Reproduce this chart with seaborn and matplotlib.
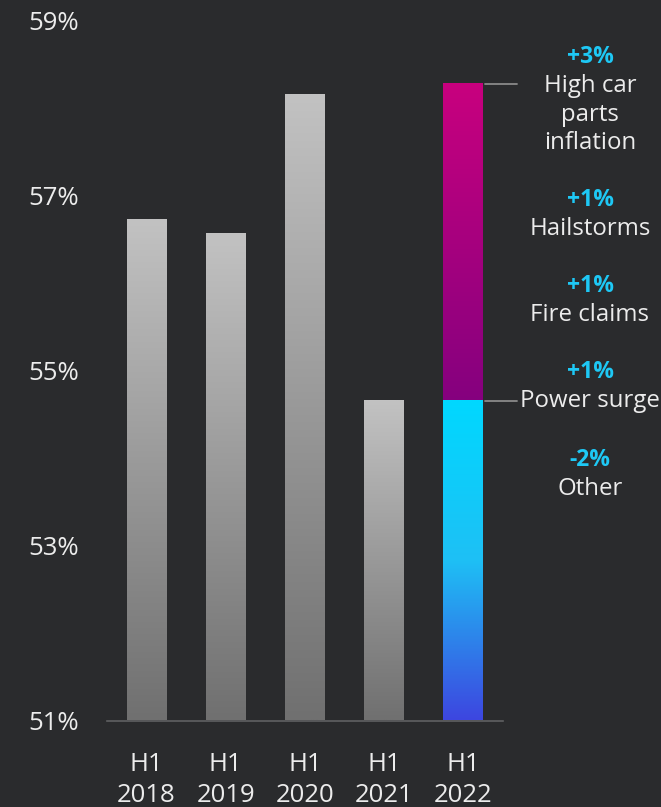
import numpy as np
import pandas as pd
import matplotlib
matplotlib.use("Agg")
import matplotlib.pyplot as plt
from matplotlib.colors import LinearSegmentedColormap
import seaborn as sns

# Loss ratio by half-year (%)
periods = ["H1\n2018", "H1\n2019", "H1\n2020", "H1\n2021", "H1\n2022"]
loss_ratio = [56.72, 56.56, 58.15, 54.65, 58.28]
base_2022 = 54.65          # H1 2021 level carried into the 2022 bridge

# Drivers of the H1 2022 change
driver_values = ["+3%", "+1%", "+1%", "+1%", "-2%"]
driver_labels = [["High car", "parts", "inflation"], ["Hailstorms"], ["Fire claims"],
                 ["Power surge"], ["Other"]]

y_ticks = [51, 53, 55, 57, 59]
y_min, y_max = 51, 59

BG = "#2a2b2d"
TXT = "#ececec"
ACCENT = "#1ec8f5"

sns.set_theme(style="dark")
plt.rcParams["font.family"] = ["Open Sans", "DejaVu Sans"]

W, H = 661, 807
fig = plt.figure(figsize=(W / 100, H / 100), dpi=100, facecolor=BG)
ax = fig.add_axes([107 / W, 86.5 / H, 396 / W, 700 / H], facecolor=BG)

df = pd.DataFrame({"period": periods, "value": loss_ratio})
sns.barplot(data=df, x="period", y="value", order=periods, width=0.505,
            color="#999999", ax=ax, errorbar=None)
sns.barplot(data=pd.DataFrame({"period": [periods[-1]], "value": [base_2022]}),
            x="period", y="value", order=periods, width=0.505,
            color="#00d8ff", ax=ax, errorbar=None)

grey = LinearSegmentedColormap.from_list("grey", ["#707070", "#c2c2c2"])
magenta = LinearSegmentedColormap.from_list("mag", ["#85007f", "#c8007e"])
cyan = LinearSegmentedColormap.from_list("cyan", ["#3d46e0", "#1ec0f5", "#00d8ff"])

grad = np.linspace(0, 1, 256).reshape(-1, 1)
patches = list(ax.patches)
for i, p in enumerate(patches):
    x0, w = p.get_x(), p.get_width()
    top = p.get_y() + p.get_height()
    lo = y_min
    if i < 4:
        cmap = grey
    elif i == 4:
        cmap, lo = magenta, base_2022
    else:
        cmap = cyan
    p.set_facecolor("none")
    p.set_edgecolor("none")
    ax.imshow(grad, extent=[x0, x0 + w, lo, top], origin="lower",
              aspect="auto", cmap=cmap, zorder=2)

ax.set_xlim(-0.5, 4.5)
ax.set_ylim(y_min, y_max)
ax.set_yticks(y_ticks)
ax.set_yticklabels([f"{t}%" for t in y_ticks])
ax.set_xlabel("")
ax.set_ylabel("")
ax.tick_params(axis="y", length=0, pad=20, labelsize=18.5, labelcolor=TXT)
ax.tick_params(axis="x", length=0, pad=22.5, labelsize=18.5, labelcolor=TXT)
for lbl in ax.get_xticklabels():
    lbl.set_linespacing(1.34)
ax.grid(False)
for side in ["left", "right", "top"]:
    ax.spines[side].set_visible(False)
ax.spines["bottom"].set_color("#5f6062")
ax.spines["bottom"].set_linewidth(1.2)

# Leader lines from the 2022 bar to its annotations
bar_right = 4 + 0.505 / 2
for yv in [loss_ratio[-1], base_2022]:
    ax.plot([bar_right + 0.02, bar_right + 0.42], [yv, yv], color="#8a8a8a",
            lw=1.3, clip_on=False, zorder=3)

# Driver annotations, placed by baseline (pixel rows from the top)
cx = 590 / W
value_rows = [63, 206, 292, 378, 466]
for val, lines, row in zip(driver_values, driver_labels, value_rows):
    fig.text(cx, 1 - row / H, val, ha="center", va="baseline", fontsize=16.5,
             fontweight="bold", color=ACCENT)
    for k, line in enumerate(lines):
        fig.text(cx, 1 - (row + 29 + 28.7 * k) / H, line, ha="center",
                 va="baseline", fontsize=17.3, color=TXT)

fig.savefig("out.png", dpi=100, facecolor=BG)
